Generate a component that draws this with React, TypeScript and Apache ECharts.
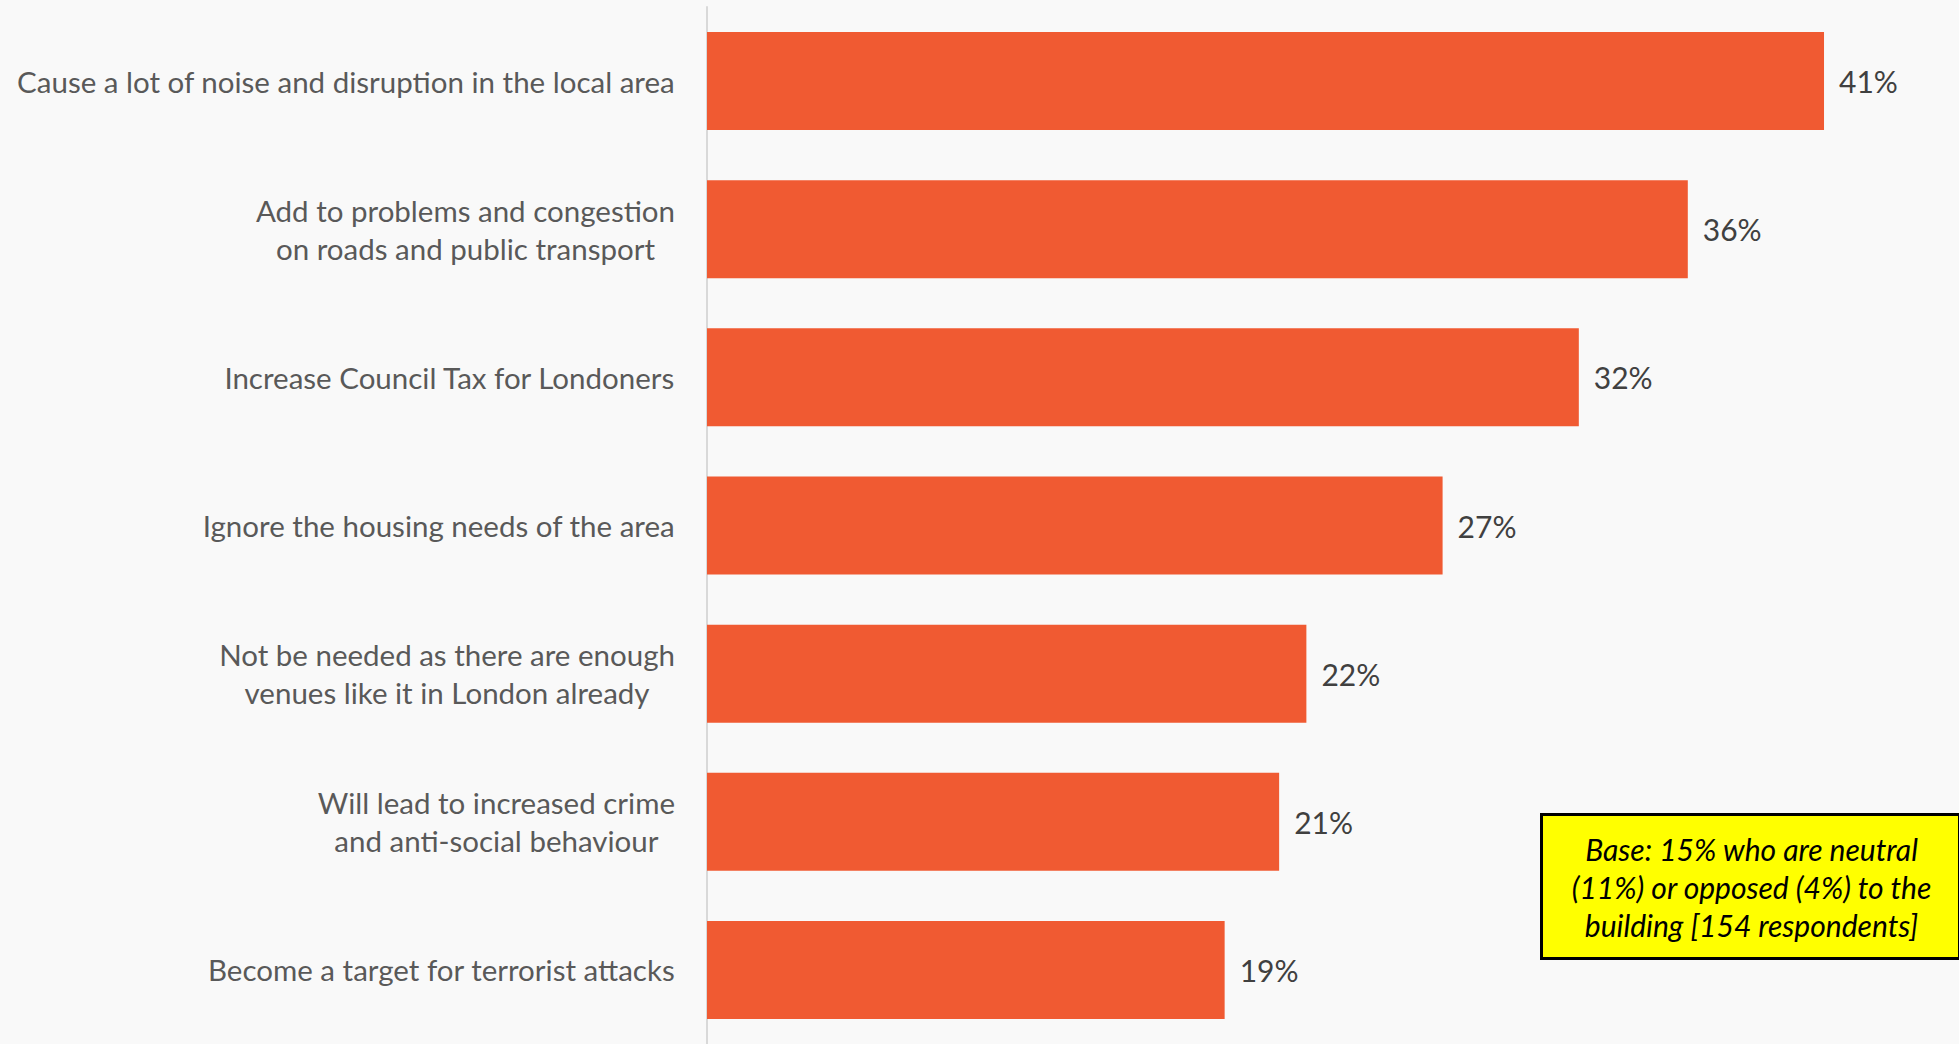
import React, { useEffect, useRef } from "react";
import * as echarts from "echarts";

const categories: string[] = [
  "Cause a lot of noise and disruption in the local area",
  "Add to problems and congestion\non roads and public transport",
  "Increase Council Tax for Londoners",
  "Ignore the housing needs of the area",
  "Not be needed as there are enough\nvenues like it in London already",
  "Will lead to increased crime\nand anti-social behaviour",
  "Become a target for terrorist attacks",
];

const values: number[] = [41, 36, 32, 27, 22, 21, 19];

const noteLines: string[] = [
  "Base: 15% who are neutral",
  "(11%) or opposed (4%) to the",
  "building [154 respondents]",
];

const FONT = "Lato, 'Open Sans', sans-serif";

export default function App() {
  const ref = useRef<HTMLDivElement>(null);

  useEffect(() => {
    document.body.style.margin = "0";
    if (!ref.current) return;
    const chart = echarts.init(ref.current, undefined, { renderer: "svg" });
    chart.setOption({
      animation: false,
      backgroundColor: "#f9f9f9",
      grid: { left: 707, top: 7, width: 1226, height: 1038, containLabel: false },
      xAxis: {
        type: "value",
        min: 0,
        max: 45,
        show: false,
        splitLine: { show: false },
      },
      yAxis: {
        type: "category",
        inverse: true,
        data: categories,
        axisLine: { show: true, lineStyle: { color: "#d9d9d9", width: 2 } },
        axisTick: { show: false },
        axisLabel: {
          margin: 32,
          align: "right",
          formatter: (v: string) =>
            v
              .split("\n")
              .map((l) => `{c|${l}}`)
              .join("\n"),
          rich: {
            c: {
              align: "center",
              fontFamily: FONT,
              fontSize: 29.5,
              lineHeight: 38,
              color: "#595959",
            },
          },
        },
      },
      series: [
        {
          type: "bar",
          data: values,
          barWidth: 98,
          itemStyle: { color: "#F05A32" },
          label: {
            show: true,
            position: "right",
            distance: 15,
            formatter: "{c}%",
            fontFamily: FONT,
            fontSize: 30,
            color: "#404040",
          },
        },
      ],
      graphic: [
        {
          type: "group",
          left: 1540,
          top: 813,
          children: [
            {
              type: "rect",
              shape: { x: 0, y: 0, width: 418, height: 144 },
              style: { fill: "#ffff00", stroke: "#000000", lineWidth: 3 },
            },
            {
              type: "text",
              x: 210,
              y: 72,
              style: {
                text: noteLines.join("\n"),
                fontFamily: FONT,
                fontStyle: "italic",
                fontSize: 30,
                lineHeight: 38,
                fill: "#000000",
                align: "center",
                verticalAlign: "middle",
              },
            },
          ],
        },
      ],
    });
    return () => chart.dispose();
  }, []);

  return (
    <div
      ref={ref}
      style={{ position: "absolute", left: 0, top: 0, width: 1959, height: 1044 }}
    />
  );
}
